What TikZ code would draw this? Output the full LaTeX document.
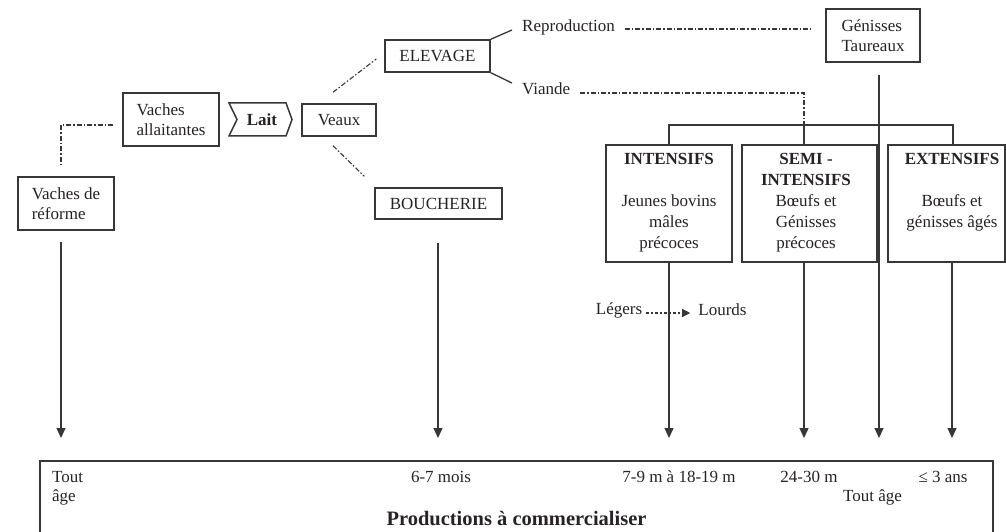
\documentclass[tikz,border=0pt]{standalone}
\usepackage{fontspec}
\setmainfont{Liberation Serif}
\usetikzlibrary{arrows.meta,calc}
\definecolor{ink}{RGB}{55,55,55}
\definecolor{txt}{RGB}{38,34,38}
\tikzset{
  every node/.style={text=txt, font=\fontsize{17}{20}\selectfont},
  box/.style={draw=ink, line width=1.5pt, inner sep=0pt},
  link/.style={draw=ink, line width=1.3pt},
  dashdot/.style={draw=ink, line width=1.1pt, dash pattern=on 5pt off 2pt on 1.5pt off 2pt},
  down/.style={link, -{Triangle[width=9pt,length=10pt]}},
  lbl/.style={inner sep=0pt},
  boxtext/.style={inner sep=0pt, anchor=north, align=center, font=\fontsize{17}{21}\selectfont},
}
\begin{document}
\begin{tikzpicture}[x=1pt,y=-1pt]
\useasboundingbox (0,0) rectangle (1006,532);

% upper left: cows, milk, calves
\node[box, minimum width=96pt, minimum height=53pt, align=left] (allait) at (171,119.5) {Vaches\\allaitantes};
\node[lbl, font=\bfseries\fontsize{17}{20}\selectfont] (lait) at (262,120) {Lait};
\draw[link, line width=1.5pt] (229,103) -- (286,103) -- (292,119.5) -- (286,136) -- (229,136) -- (237,119.5) -- cycle;
\node[box, minimum width=74pt, minimum height=32pt] (veaux) at (339,120) {Veaux};
\node[box, minimum width=96pt, minimum height=53pt, align=left] (reforme) at (66,203.5) {Vaches de\\réforme};
\node[box, minimum width=105pt, minimum height=32pt] (elevage) at (437.5,56) {ELEVAGE};
\node[box, minimum width=127pt, minimum height=31pt] (boucherie) at (438.5,203.5) {BOUCHERIE};
\node[lbl, anchor=west] (repro) at (522,27) {Reproduction};
\node[lbl, anchor=west] (viande) at (522,89) {Viande};
\node[box, minimum width=94pt, minimum height=53pt, align=left] (genisses) at (873,35.5) {Génisses\\Taureaux};

% production systems
\node[box, minimum width=126pt, minimum height=117pt] (int) at (669,203.5) {};
\node[boxtext] (intt) at (669,153.5) {\textbf{INTENSIFS}\\[21pt]Jeunes bovins\\mâles\\précoces};
\node[box, minimum width=135pt, minimum height=117pt] (semi) at (809.5,203.5) {};
\node[boxtext] (semit) at (806,153.5) {\textbf{SEMI -}\\\textbf{INTENSIFS}\\Bœufs et\\Génisses\\précoces};
\node[box, minimum width=117pt, minimum height=117pt] (ext) at (946.5,203.5) {};
\node[boxtext] (extt) at (952,153.5) {\textbf{EXTENSIFS}\\[21pt]Bœufs et\\génisses âgés};

% light to heavy
\node[lbl] (legers) at (619,310) {Légers};
\node[lbl] (lourds) at (722.5,310) {Lourds};
\draw[draw=ink, line width=1.1pt, dash pattern=on 2.5pt off 2pt, -{Triangle[width=8pt,length=8pt]}]
  ($(legers.east)+(4,3)$) -- ($(lourds.west)+(-8,3)$);

% products box
\node[box, minimum width=953pt, minimum height=80pt] (prod) at (516.5,501) {};
\node[lbl, anchor=north west, align=left, font=\fontsize{17}{19}\selectfont] (toutA) at (52,471) {Tout\\âge};
\node[lbl] (m67) at (441,477) {6-7 mois};
\node[lbl] (m79) at (679,477) {7-9 m à 18-19 m};
\node[lbl] (m2430) at (809,477) {24-30 m};
\node[lbl] (ans) at (943,477) {≤ 3 ans};
\node[lbl] (toutB) at (872.5,497) {Tout âge};
\node[lbl, font=\bfseries\fontsize{20.5}{24}\selectfont] (prodt) at (516.5,518) {Productions à commercialiser};

% helper coordinates
\coordinate (jct) at (804,125);
\coordinate (extdrop) at (953,145);
\coordinate (tipline) at (0,438);

% dash-dot links
\draw[dashdot] ($(allait.west)+(-9,5.5)$) -| ($(reforme.north)+(-5,-10)$);
\draw[dashdot] ($(veaux.north)+(-6,-11)$) -- ($(elevage.west)+(-8,3)$);
\draw[dashdot] ($(veaux.south)+(-6,9)$) -- ($(boucherie.north west)+(-10,-11)$);
\draw[dashdot] ($(repro.east)+(10,2)$) -- ($(genisses.west)+(-14,-6.5)$);
\draw[dashdot] ($(viande.east)+(10,4)$) -| (jct);

% solid links
\draw[link] (elevage.north east) -- ($(repro.west)+(-10,3)$);
\draw[link] (elevage.south east) -- ($(viande.west)+(-10,-6)$);
\draw[link] (int.north) |- (jct) -| (extdrop);
\draw[link] (jct) -- (jct |- semi.north);

% arrows down to the products
\draw[down] ($(reforme.south)+(-5,11)$) coordinate (r0) -- (r0 |- tipline);
\draw[down] ($(boucherie.south)+(-0.5,23)$) coordinate (b0) -- (b0 |- tipline);
\draw[down] (int.south) -- (int.south |- tipline);
\draw[down] (jct |- semi.south) -- (jct |- tipline);
\draw[down] ($(genisses.south)+(6,12)$) coordinate (g0) -- (g0 |- tipline);
\draw[down] ($(extdrop |- ext.south)+(-1,0)$) coordinate (e0) -- (e0 |- tipline);
\end{tikzpicture}
\end{document}
